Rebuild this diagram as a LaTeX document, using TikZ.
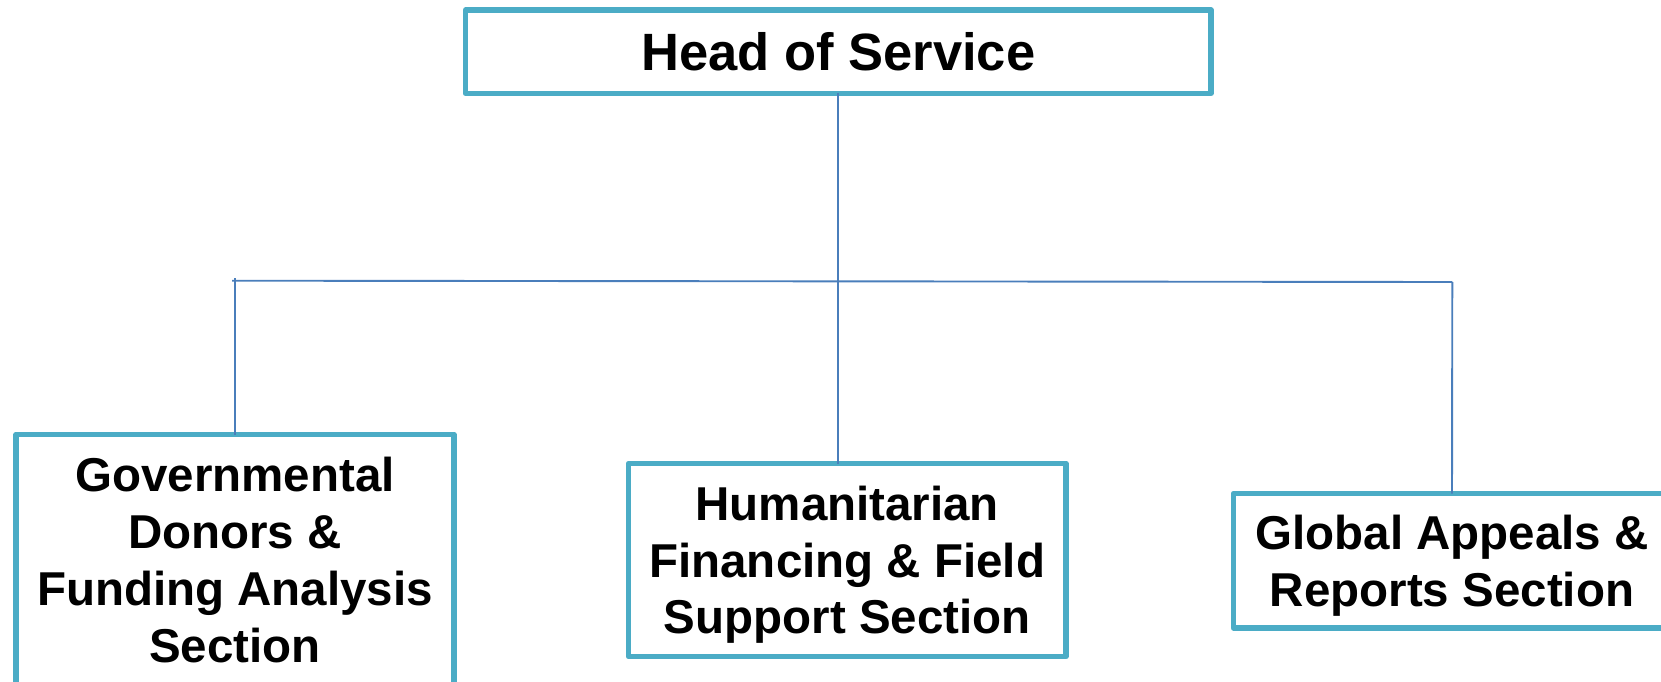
\documentclass[tikz,border=0pt]{standalone}
\usepackage{fontspec}
\setmainfont{Liberation Sans}
\definecolor{boxcol}{HTML}{4BACC6}
\definecolor{linecol}{HTML}{4A7EBB}
\begin{document}
\begin{tikzpicture}[x=1pt,y=-1pt,
  orgbox/.style={draw=boxcol, line width=5.5pt, line join=round, fill=white,
    rectangle, inner sep=0pt, outer sep=0pt, align=center,
    font=\bfseries\fontsize{47.5}{56.8}\selectfont, text depth=0pt},
  topbox/.style={orgbox, font=\bfseries\fontsize{52.5}{60}\selectfont,
    text height=37.6pt},
  conn/.style={draw=linecol, line width=1.9pt}]
\useasboundingbox (0,0) rectangle (1661,682);
\clip (0,0) rectangle (1661,682);
\fill[white] (0,0) rectangle (1661,682);
\coordinate (hl) at (232,280.7);
\coordinate (hr) at (1452.3,282);
\coordinate (lt) at (235,278.3);
\node[topbox, minimum width=745.5pt, minimum height=83.3pt] (head) at (838.3,51.7) {Head of Service};
\node[orgbox, text height=204.4pt, minimum width=438pt, minimum height=251pt] (gov) at (235,560) {Governmental\\Donors \&\\Funding Analysis\\Section};
\node[orgbox, text height=147.6pt, minimum width=437.5pt, minimum height=193pt] (hum) at (847.25,560) {Humanitarian\\Financing \& Field\\Support Section};
\node[orgbox, text height=90.8pt, minimum width=437pt, minimum height=134.5pt] (glob) at (1452,560.75) {Global Appeals \&\\Reports Section};
\draw[conn] (head.south -| 838,0) -- (hum.north -| 838,0);
\draw[conn] (hl) -- (hr);
\draw[conn] (lt) -- (gov.north);
\draw[conn] (hr) -- (glob.north);
\end{tikzpicture}
\end{document}
